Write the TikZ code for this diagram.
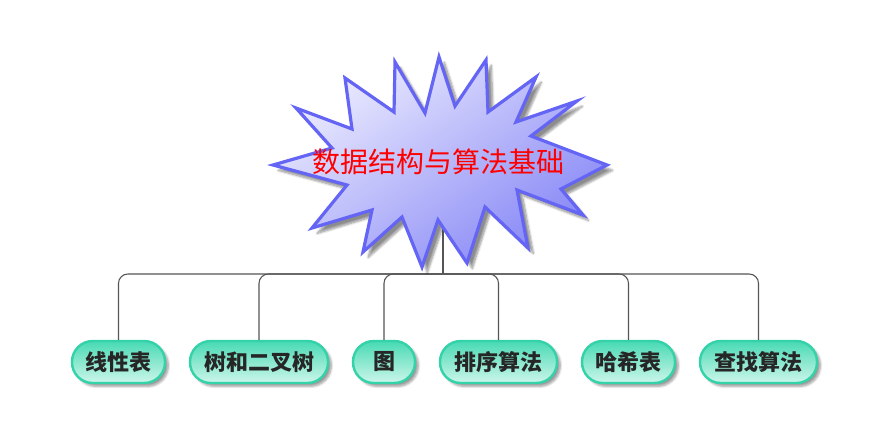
\documentclass[tikz,border=0pt]{standalone}
\usepackage{fontspec}
\newfontfamily\cjk{Noto Sans CJK SC}
\usetikzlibrary{shadows.blur}
\definecolor{starline}{RGB}{100,100,245}
\definecolor{startop}{RGB}{236,236,255}
\definecolor{starbot}{RGB}{135,135,246}
\definecolor{boxline}{RGB}{52,210,168}
\definecolor{boxtop}{RGB}{72,218,180}
\definecolor{boxbot}{RGB}{205,246,234}
\definecolor{conn}{RGB}{85,85,85}
\tikzset{
  leaf/.style={draw=boxline, line width=1.8pt, rounded corners=15.5pt,
    top color=boxtop, bottom color=boxbot, minimum height=31.5pt,
    inner sep=0pt, font=\cjk\bfseries\fontsize{16.5pt}{16.5pt}\selectfont,
    text=black!85,
    blur shadow={shadow xshift=2.5pt, shadow yshift=-2.5pt, shadow blur steps=6, shadow opacity=40}},
  link/.style={draw=conn, line width=0.8pt, rounded corners=7pt},
  starshape/.style={draw=starline, line width=2.4pt, line join=miter,
    shading=axis, top color=startop, bottom color=starbot, shading angle=35,
    blur shadow={shadow xshift=4pt, shadow yshift=-4pt, shadow blur steps=8, shadow opacity=45}},
}
\begin{document}
\begin{tikzpicture}[x=0.75pt,y=-0.75pt]
\useasboundingbox (0,0) rectangle (892,426);
% leaves
\node[leaf, minimum width=69.75pt] (l1) at (118.5,362) {线性表};
\node[leaf, minimum width=103.5pt] (l2) at (259,362) {树和二叉树};
\node[leaf, minimum width=46.5pt]  (l3) at (384,362) {图};
\node[leaf, minimum width=87.75pt] (l4) at (498.5,362) {排序算法};
\node[leaf, minimum width=69.75pt] (l5) at (628.5,362) {哈希表};
\node[leaf, minimum width=87.75pt] (l6) at (758.5,362) {查找算法};
% connectors
\coordinate (sc) at (443,170);
\coordinate (j) at (443,274);
\draw[conn, line width=0.8pt] (sc) -- (j);
\foreach \n in {l1,l2,l3,l4,l5,l6}{
  \draw[link] (j) -| (\n.north);
}
% star
\path[starshape] (296,108) -- (352,129) -- (345,78) -- (394,112) -- (395,62) -- (425,113)
  -- (439,57) -- (455,106) -- (486,60) -- (488,112) -- (536,77) -- (516,122)
  -- (577,101) -- (531,136) -- (607,165) -- (561,189) -- (583,215) -- (517,190)
  -- (528,248) -- (485,207) -- (467,263) -- (438,220) -- (422,267) -- (402,217)
  -- (363,252) -- (372,210) -- (312,228) -- (347,185) -- (273,165) -- (332,148) -- cycle;
\node[text=red, font=\cjk\fontsize{21pt}{21pt}\selectfont, inner sep=0pt] (root) at (438,162) {数据结构与算法基础};
\end{tikzpicture}
\end{document}
